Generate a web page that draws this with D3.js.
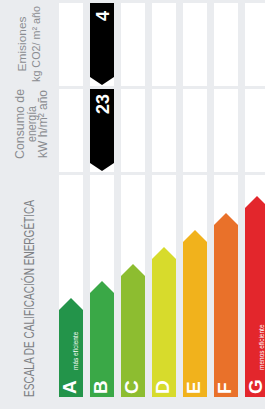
<!DOCTYPE html>
<html>
<head>
<meta charset="utf-8">
<script src="https://cdn.jsdelivr.net/npm/d3@7"></script>
<style>
  html, body { margin: 0; padding: 0; background: #eaecef; }
  svg { display: block; }
</style>
</head>
<body>
<svg id="chart" width="265" height="409"></svg>
<script>
// clases de la escala
const classes = ["A", "B", "C", "D", "E", "F", "G"]
const levels = [1, 2, 3, 4, 5, 6, 7]
const classColors = ["#23944a", "#3aa847", "#8dbd30", "#d7db2c", "#f1b21c", "#e9712a", "#e3262c"]
const classNotes = ["más eficiente", "", "", "", "", "", "menos eficiente"]

// indicadores
const consumoValue = 23
const consumoClass = "B"
const emisionesValue = 4
const emisionesClass = "B"

const emisionesLabel = ["Emisiones", "kg CO2/ m² año"]
const consumoLabel = ["Consumo de", "energía", "kW h/m² año"]
const escalaLabel = "ESCALA DE CALIFICACIÓN ENERGÉTICA"

var svg = d3.select("#chart")
var font = "'Liberation Sans Narrow', 'Liberation Sans', Arial, sans-serif"

var x = d3.scaleBand().domain(classes).range([59, 269]).paddingInner(7 / 31).paddingOuter(0)
var w = x.bandwidth()
var yTip = d3.scaleLinear().domain([1, 7]).range([298, 196])
var yBottom = 397

// secciones: emisiones, consumo, escala
var sections = [
    { top: 3, bottom: 86 },
    { top: 89, bottom: 172 },
    { top: 175, bottom: yBottom }
]

sections.forEach(function (s) {
    svg.append("g").selectAll("rect")
        .data(classes)
        .enter()
        .append("rect")
        .attr("x", function (d) { return x(d) })
        .attr("y", s.top)
        .attr("width", w)
        .attr("height", s.bottom - s.top)
        .attr("fill", "#ffffff")
})

// barras de flecha
var bars = svg.append("g")
bars.selectAll("path")
    .data(classes)
    .enter()
    .append("path")
    .attr("d", function (d, i) {
        var x0 = x(d), t = yTip(levels[i])
        return "M" + x0 + "," + yBottom +
            "L" + x0 + "," + (t + w / 2) +
            "L" + (x0 + w / 2) + "," + t +
            "L" + (x0 + w) + "," + (t + w / 2) +
            "L" + (x0 + w) + "," + yBottom + "Z"
    })
    .attr("fill", function (d, i) { return classColors[i] })

bars.selectAll("text.letter")
    .data(classes)
    .enter()
    .append("text")
    .attr("class", "letter")
    .attr("transform", function (d) { return "translate(" + (x(d) + w / 2 - 1.5) + "," + (yBottom - 3) + ") rotate(-90)" })
    .attr("dy", "0.36em")
    .attr("font-family", "'Liberation Sans', Arial, sans-serif")
    .attr("font-weight", "bold")
    .attr("font-size", 19)
    .attr("fill", "#ffffff")
    .text(function (d) { return d })

bars.selectAll("text.note")
    .data(classes)
    .enter()
    .append("text")
    .attr("class", "note")
    .attr("transform", function (d) { return "translate(" + (x(d) + w - 5) + "," + 370 + ") rotate(-90)" })
    .attr("font-family", font)
    .attr("font-size", 6.5)
    .attr("fill", "#ffffff")
    .text(function (d, i) { return classNotes[i] })

// marcadores negros
function marker(cls, value, s, textY) {
    var x0 = x(cls)
    var bodyBottom = s.bottom - 9, tip = s.bottom - 1
    svg.append("path")
        .attr("d", "M" + x0 + "," + s.top +
            "L" + (x0 + w) + "," + s.top +
            "L" + (x0 + w) + "," + bodyBottom +
            "L" + (x0 + w / 2) + "," + tip +
            "L" + x0 + "," + bodyBottom + "Z")
        .attr("fill", "#000000")
    svg.append("text")
        .attr("transform", "translate(" + (x0 + w / 2 + 1) + "," + textY + ") rotate(-90)")
        .attr("text-anchor", "middle")
        .attr("dy", "0.36em")
        .attr("font-family", "'Liberation Sans', Arial, sans-serif")
        .attr("font-weight", "bold")
        .attr("font-size", 18)
        .attr("fill", "#ffffff")
        .text(value)
}
marker(emisionesClass, emisionesValue, sections[0], 16)
marker(consumoClass, consumoValue, sections[1], 104)

// textos de la izquierda
function sideLabel(lines, xs, cy, lens, size) {
    lines.forEach(function (t, i) {
        var el = svg.append("text")
            .attr("transform", "translate(" + xs[i] + "," + cy + ") rotate(-90)")
            .attr("text-anchor", "middle")
            .attr("font-family", font)
            .attr("font-size", size)
            .attr("fill", "#8a8d91")
            .text(t)
        if (lens[i]) el.attr("textLength", lens[i]).attr("lengthAdjust", "spacingAndGlyphs")
    })
}
sideLabel(emisionesLabel, [26, 39.5], 44, [55, 76], 11.5)
sideLabel(consumoLabel, [24, 35.5, 47], 124, [70, 36, 68], 12)

svg.append("text")
    .attr("transform", "translate(33.5,397) rotate(-90)")
    .attr("font-family", font)
    .attr("font-size", 14)
    .attr("fill", "#7d8084")
    .attr("textLength", 197)
    .attr("lengthAdjust", "spacingAndGlyphs")
    .text(escalaLabel)
</script>
</body>
</html>
